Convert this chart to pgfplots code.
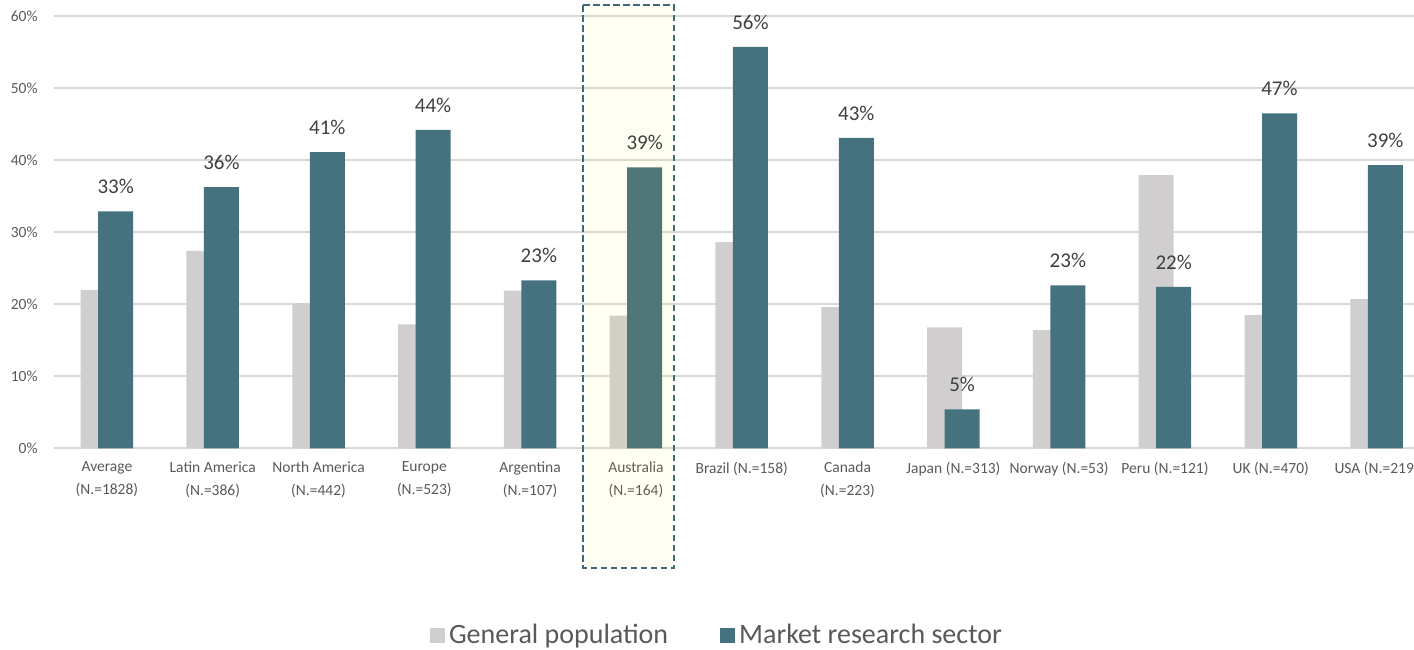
\documentclass[border=0pt]{standalone}
\usepackage{fontspec}
\setmainfont{Carlito}
\usepackage{pgfplots}
\pgfplotsset{compat=1.18}
\definecolor{gpop}{HTML}{D0CECE}
\definecolor{mrs}{HTML}{46717F}
\definecolor{gridc}{HTML}{D9D9D9}
\definecolor{tickc}{HTML}{595959}
\definecolor{labc}{HTML}{404040}
\definecolor{boxc}{HTML}{42697A}
\begin{document}
\begin{tikzpicture}
\begin{axis}[
  at={(0,0)}, anchor=south west,
  scale only axis, width=680pt, height=216.15pt,
  xmin=-0.5, xmax=12.354, ymin=0, ymax=60,
  ybar, bar width=17.5pt,
  clip=false,
  axis line style={draw=none},
  tick style={draw=none}, major tick length=0pt,
  ymajorgrids, grid style={color=gridc, line width=1pt},
  ytick={0,10,20,30,40,50,60},
  /pgf/number format/assume math mode=true,
  yticklabel={\pgfmathprintnumber{\tick}\%},
  yticklabel style={font=\fontsize{7.75}{9}\selectfont, text=tickc, inner sep=0pt, anchor=east, xshift=-8pt},
  xtick={0,1,2,3,4,5,6,7,8,9,10,11,12},
  xticklabels={{Average\\(N.=1828)},{Latin America\\(N.=386)},{North America\\(N.=442)},{Europe\\(N.=523)},{Argentina\\(N.=107)},{Australia\\(N.=164)},{Brazil (N.=158)},{Canada\\(N.=223)},{Japan (N.=313)},{Norway (N.=53)},{Peru (N.=121)},{UK (N.=470)},{USA (N.=219)}},
  xticklabel style={font=\fontsize{7.75}{11.5}\selectfont, text=tickc, align=center, inner sep=0pt, anchor=north, yshift=-6.5pt},
  legend columns=2,
  legend style={at={(0.4882,-0.433)}, anchor=center, draw=none, fill=none,
    font=\fontsize{14}{16}\selectfont, text=tickc,
    /tikz/every even column/.append style={column sep=24pt}},
]
\addplot[fill=gpop, draw=none, bar shift=-4.375pt,
  legend image code/.code={\fill[gpop] (0pt,-3.75pt) rectangle (7.5pt,3.75pt);}]
  coordinates {(0,22.0) (1,27.4) (2,20.1) (3,17.2) (4,21.9) (5,18.4) (6,28.6) (7,19.6) (8,16.8) (9,16.4) (10,37.9) (11,18.5) (12,20.7)};
\addlegendentry{General population}
\addplot[fill=mrs, draw=none, bar shift=4.375pt,
  legend image code/.code={\fill[mrs] (0pt,-3.75pt) rectangle (7.5pt,3.75pt);},
  point meta=explicit symbolic,
  nodes near coords={\pgfplotspointmeta\%},
  every node near coord/.append style={font=\fontsize{10.5}{12}\selectfont, text=labc, anchor=south, inner sep=0pt, yshift=8.5pt}]
  coordinates {(0,32.9) [33] (1,36.25) [36] (2,41.1) [41] (3,44.2) [44] (4,23.3) [23] (5,39.0) [39] (6,55.7) [56] (7,43.1) [43] (8,5.4) [5] (9,22.6) [23] (10,22.4) [22] (11,46.5) [47] (12,39.3) [39]};
\addlegendentry{Market research sector}
\draw[boxc, line width=1pt, dash pattern=on 3.3pt off 1.7pt, fill=yellow, fill opacity=0.05]
  (axis cs:4.502,61.5) rectangle (axis cs:5.359,-16.6);
\end{axis}
\pgfresetboundingbox
\useasboundingbox (-27pt,-100.35pt) rectangle (680pt,224.15pt);
\end{tikzpicture}
\end{document}
